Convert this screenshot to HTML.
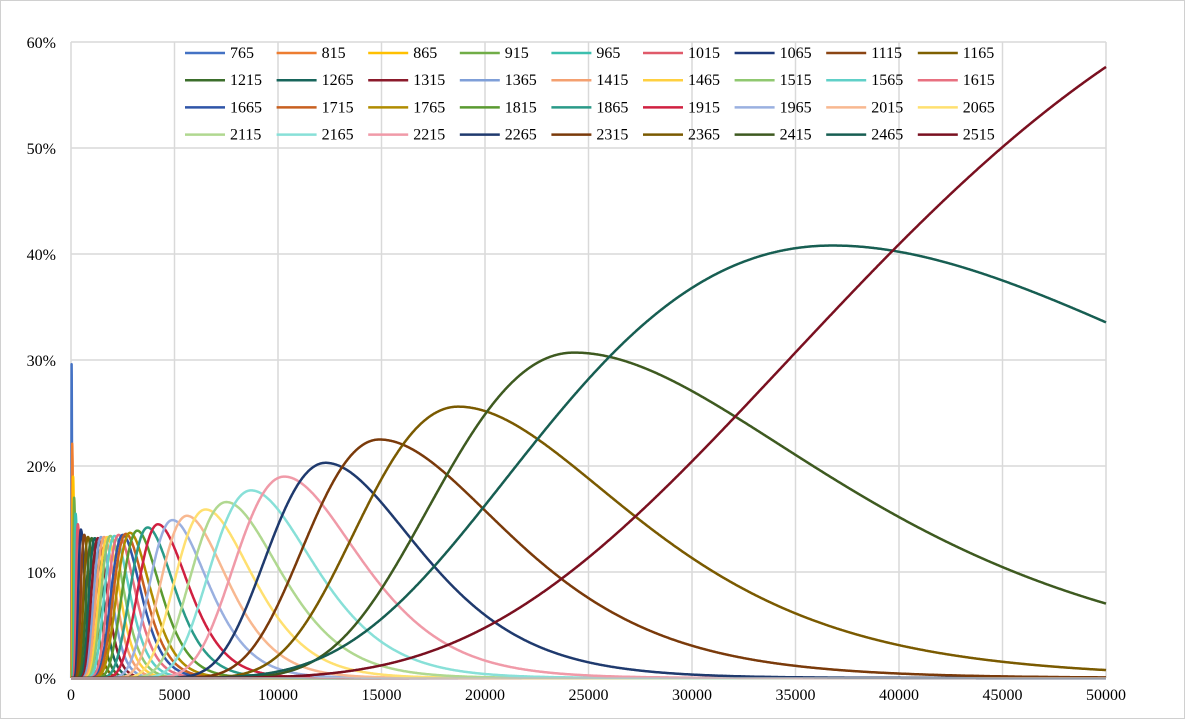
<!DOCTYPE html>
<html><head><meta charset="utf-8"><style>
body{margin:0;background:#fff;}
svg{display:block;font-family:"Liberation Serif",serif;}
</style></head><body>
<svg id="chart" width="1185" height="719" viewBox="0 0 1185 719" xmlns="http://www.w3.org/2000/svg">
<rect x="0.5" y="0.5" width="1184" height="718" fill="#fff" stroke="#d0d0d0"/>
<g id="grid"></g>
<g id="series"></g>
<g id="axes"></g>
<g id="legend"></g>
</svg>
<script>
const names=[765,815,865,915,965,1015,1065,1115,1165,1215,1265,1315,1365,1415,1465,1515,1565,1615,1665,1715,1765,1815,1865,1915,1965,2015,2065,2115,2165,2215,2265,2315,2365,2415,2465,2515];
const colors=["#4472C4","#ED7D31","#FFC000","#70AD47","#3CBFAE","#E05A6A","#1F3A7A","#8B4513","#7F6000",
"#3B6E2B","#17655B","#8B1A2B","#7F9FD8","#F4A070","#FFD040","#90C870","#60D0C8","#E87080",
"#2F55A8","#C86020","#B08C00","#5A9A30","#2A9A88","#D02040","#9AB0E0","#F8B890","#FFE070",
"#B0D890","#88E0D8","#F09AA8","#1F3A6E","#7A3A0A","#7A5A00","#3E5A20","#175E52","#7A1020"];
const peakX=[30,60,100,150,220,330,480,640,820,1000,1150,1300,1450,1600,1750,1900,2100,2300,2500,2650,2850,3200,3700,4200,4900,5600,6500,7500,8700,10300,12300,14900,18700,24300,36800,70000];
const peakY=[29.6,22.1,19.0,17.0,15.5,14.5,14.0,13.5,13.3,13.2,13.2,13.2,13.3,13.3,13.3,13.4,13.4,13.5,13.5,13.6,13.7,13.9,14.2,14.5,14.9,15.3,15.9,16.6,17.7,19.0,20.3,22.5,25.6,30.7,40.8,70.0];
const spreadL=[0.3,0.3,0.3,0.3,0.3,0.3,0.3,0.3,0.3,0.3,0.28,0.28,0.27,0.27,0.26,0.26,0.26,0.25,0.25,0.25,0.25,0.25,0.25,0.25,0.25,0.25,0.25,0.25,0.25,0.25,0.25,0.26,0.28,0.3,0.45,0.54];
const spreadR=[0.6,0.55,0.5,0.45,0.42,0.38,0.35,0.33,0.32,0.3,0.3,0.3,0.3,0.3,0.3,0.3,0.3,0.3,0.3,0.3,0.3,0.3,0.3,0.3,0.3,0.3,0.3,0.3,0.3,0.3,0.31,0.35,0.37,0.42,0.49,0.54];
const xTicks=[0,5000,10000,15000,20000,25000,30000,35000,40000,45000,50000];
const yTicks=[0,10,20,30,40,50,60];
const X0=71,X1=1106,Y0=678,Y1=42;
const sx=v=>X0+(v/50000)*(X1-X0);
const sy=v=>Y0-(v/60)*(Y0-Y1);
const NS="http://www.w3.org/2000/svg";
function mk(t,a,p){const e=document.createElementNS(NS,t);for(const k in a)e.setAttribute(k,a[k]);p.appendChild(e);return e;}
const grid=document.getElementById('grid'),axes=document.getElementById('axes'),ser=document.getElementById('series'),leg=document.getElementById('legend');
yTicks.forEach(t=>{
 const l=mk('line',{x1:X0,x2:X1,y1:sy(t),y2:sy(t),stroke:'#d9d9d9','stroke-width':1.5},grid);
 
 
 const tx=mk('text',{x:56,y:sy(t)+6,'text-anchor':'end','font-size':16,fill:'#000'},axes);
 tx.textContent=t+'%';
 
 
});
xTicks.forEach(t=>{
 const l=mk('line',{x1:sx(t),x2:sx(t),y1:Y1,y2:Y0,stroke:'#d9d9d9','stroke-width':1.5},grid);
 
 
 const tx=mk('text',{x:sx(t),y:700,'text-anchor':'middle','font-size':16,fill:'#000'},axes);
 tx.textContent=t;
 
 
});
const ax=mk('line',{x1:X0,x2:X1,y1:Y0,y2:Y0,stroke:'#bfbfbf','stroke-width':1.5},axes);


function val(i,x){
 if(x<=0)return 0;
 const r=Math.log(x/peakX[i]);const s=r<0?spreadL[i]:spreadR[i];
 return peakY[i]*Math.exp(-r*r/(2*s*s));
}
names.forEach((n,i)=>{
 const pts=[];
 for(let k=0;k<=2000;k++){
  const x=k<200?k*5:1000+(k-200)*(49000/1800);
  pts.push(sx(x).toFixed(1)+','+sy(Math.min(val(i,x),61)).toFixed(1));
 }
 const p=mk('polyline',{points:pts.join(' '),fill:'none',stroke:colors[i],'stroke-width':2.5,'stroke-linejoin':'round'},ser);
 
 
 const col=i%9,row=Math.floor(i/9);
 const lx=185+col*91.6,ly=53+row*27.2;
 const g=mk('g',{},leg);
 
 
 mk('line',{x1:lx,x2:lx+40,y1:ly,y2:ly,stroke:colors[i],'stroke-width':2.5},g);
 const t=mk('text',{x:lx+45,y:ly+5,'font-size':16,fill:'#000'},g);
 t.textContent=n;
});
</script>
</body></html>
